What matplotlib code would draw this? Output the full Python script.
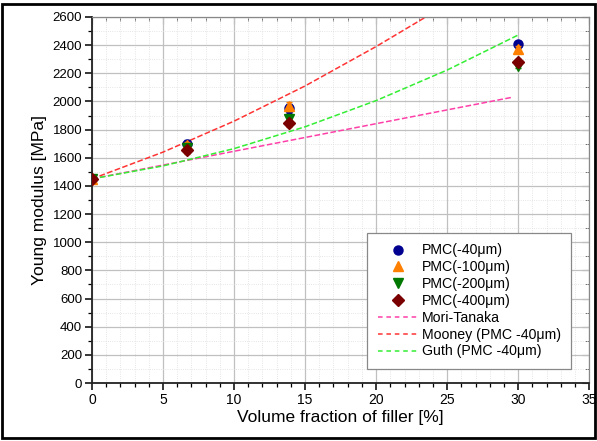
import matplotlib.pyplot as plt
from matplotlib.patches import Rectangle
from matplotlib.lines import Line2D
from matplotlib.ticker import MultipleLocator

plt.rcParams['font.family'] = ['Liberation Sans', 'DejaVu Sans']

# measured points
x_data = [0, 6.67, 13.9, 30]
pmc_40 = [1450, 1700, 1950, 2410]
pmc_100 = [1450, 1690, 1965, 2375]
pmc_200 = [1450, 1670, 1875, 2255]
pmc_400 = [1450, 1655, 1845, 2280]
err_40 = [10, 25, 30, 20]
err_100 = [10, 25, 30, 20]
err_200 = [10, 25, 25, 20]
err_400 = [10, 25, 25, 20]

# model curves
x_mt = [0, 5, 10, 15, 20, 25, 29.6]
mori_tanaka = [1450, 1548, 1646, 1744, 1842, 1940, 2030]
x_mooney = [0, 5, 10, 15, 20, 23.5]
mooney = [1450, 1640, 1860, 2110, 2390, 2600]
x_guth = [0, 5, 10, 15, 20, 25, 30]
guth = [1450, 1542, 1665, 1820, 2006, 2223, 2472]

fig = plt.figure(figsize=(5.97, 4.41), dpi=100)
ax = fig.add_axes([0.154, 0.1315, 0.833, 0.83])

ax.plot(x_mt, mori_tanaka, '--', color='#ff3fa8', lw=1.1, zorder=2)
ax.plot(x_mooney, mooney, '--', color='#ff3333', lw=1.1, zorder=2)
ax.plot(x_guth, guth, '--', color='#33ee33', lw=1.1, zorder=2)

series = [
    (pmc_40, err_40, 'o', '#000090', '#000090', 6.5, 'PMC(-40μm)'),
    (pmc_100, err_100, '^', '#ff8000', '#ff8000', 7, 'PMC(-100μm)'),
    (pmc_200, err_200, 'v', '#007800', '#007800', 7, 'PMC(-200μm)'),
    (pmc_400, err_400, 'D', '#7a0000', '#e08040', 6, 'PMC(-400μm)'),
]
handles = []
labels = []
for z, (vals, err, m, c, ec, ms, lab) in enumerate(series):
    ax.errorbar(x_data, vals, yerr=err, fmt=m, color=c, ms=ms, ecolor=ec,
                capsize=2, elinewidth=0.8, zorder=3 + z * 0.1)
    handles.append(Line2D([], [], ls='none', marker=m, color=c, ms=ms))
    labels.append(lab)

for c, lab in [('#ff3fa8', 'Mori-Tanaka'), ('#ff3333', 'Mooney (PMC -40μm)'),
               ('#33ee33', 'Guth (PMC -40μm)')]:
    handles.append(Line2D([], [], ls=(0, (3, 2.5)), color=c, lw=1.1))
    labels.append(lab)

ax.set_xlim(0, 35)
ax.set_ylim(0, 2600)
ax.xaxis.set_major_locator(MultipleLocator(5))
ax.xaxis.set_minor_locator(MultipleLocator(1))
ax.yaxis.set_major_locator(MultipleLocator(200))
ax.yaxis.set_minor_locator(MultipleLocator(100))

ax.grid(which='major', color='#c0c0c0', lw=0.9)
ax.grid(which='minor', color='#dddddd', lw=0.6, ls=':')
ax.set_axisbelow(True)

for s in ['left', 'bottom']:
    ax.spines[s].set_linewidth(1.3)
    ax.spines[s].set_color('#222222')
for s in ['top', 'right']:
    ax.spines[s].set_linewidth(0.9)
    ax.spines[s].set_color('#888888')

ax.tick_params(which='both', direction='out', top=False, right=False)
ax.tick_params(which='major', length=5, width=1.1)
ax.tick_params(which='minor', length=3, width=0.9)
ax.tick_params(axis='x', labelsize=10, pad=2)
ax.tick_params(axis='y', labelsize=9.5, pad=2)

# inward ticks on the top and right edges
ax_top = ax.secondary_xaxis('top')
ax_top.xaxis.set_major_locator(MultipleLocator(5))
ax_top.xaxis.set_minor_locator(MultipleLocator(1))
ax_top.tick_params(which='both', direction='in', labeltop=False, color='#555555')
ax_top.tick_params(which='major', length=5)
ax_top.tick_params(which='minor', length=3)
ax_top.spines['top'].set_visible(False)
ax_right = ax.secondary_yaxis('right')
ax_right.yaxis.set_major_locator(MultipleLocator(200))
ax_right.yaxis.set_minor_locator(MultipleLocator(100))
ax_right.tick_params(which='both', direction='in', labelright=False, color='#555555')
ax_right.tick_params(which='major', length=5)
ax_right.tick_params(which='minor', length=3)
ax_right.spines['right'].set_visible(False)

ax.set_xlabel('Volume fraction of filler [%]', fontsize=12.5, labelpad=2)
ax.set_ylabel('Young modulus [MPa]', fontsize=12.5, labelpad=4)

leg = ax.legend(handles, labels, loc='lower right', bbox_to_anchor=(0.964, 0.038),
                borderaxespad=0, fontsize=10.2, fancybox=False, edgecolor='#888888',
                framealpha=1, handlelength=2.8, borderpad=0.75, labelspacing=0.2,
                handletextpad=0.3)
leg.get_frame().set_linewidth(0.9)

fig.patches.append(Rectangle((0.004, 0.006), 0.992, 0.986, transform=fig.transFigure,
                             fill=False, edgecolor='black', lw=2))

fig.savefig('out.png', dpi=100)
